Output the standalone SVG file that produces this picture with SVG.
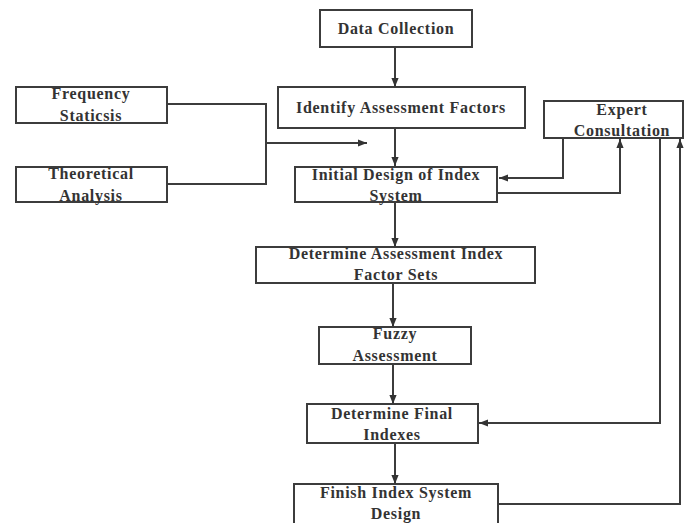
<svg xmlns="http://www.w3.org/2000/svg" width="685" height="523" viewBox="0 0 685 523">
<style>
.box{fill:#fff;stroke:#3c3c3c;stroke-width:2}
.t{font-family:"Liberation Serif","Times New Roman",serif;font-weight:bold;font-size:16px;letter-spacing:0.7px;fill:#333;text-anchor:middle}
.c{fill:none;stroke:#3c3c3c;stroke-width:2}
</style>
<defs>
<marker id="ah" viewBox="0 0 10 10" refX="10" refY="5" markerWidth="9" markerHeight="9" markerUnits="userSpaceOnUse" orient="auto">
<path d="M0,1 L10,5 L0,9 z" fill="#333"/>
</marker>
</defs>
<rect width="685" height="523" fill="#fff"/>
<g id="data-collection"><rect class="box" x="320" y="10" width="152" height="37"/><text class="t" x="396" y="34">Data Collection</text></g>
<g id="identify"><rect class="box" x="278" y="87" width="247" height="41"/><text class="t" x="401" y="113">Identify Assessment Factors</text></g>
<g id="frequency"><rect class="box" x="16" y="87" width="151" height="36"/><text class="t" x="91" y="99">Frequency</text><text class="t" x="91" y="121">Staticsis</text></g>
<g id="theoretical"><rect class="box" x="16" y="167" width="151" height="35"/><text class="t" x="91" y="179">Theoretical</text><text class="t" x="91" y="201">Analysis</text></g>
<g id="initial-design"><rect class="box" x="295" y="167" width="202" height="35"/><text class="t" x="396" y="180">Initial Design of Index</text><text class="t" x="396" y="201">System</text></g>
<g id="expert"><rect class="box" x="544" y="101" width="139" height="37"/><text class="t" x="622" y="115">Expert</text><text class="t" x="622" y="136">Consultation</text></g>
<g id="factor-sets"><rect class="box" x="256" y="247" width="279" height="36"/><text class="t" x="396" y="259">Determine Assessment Index</text><text class="t" x="396" y="280">Factor Sets</text></g>
<g id="fuzzy"><rect class="box" x="319" y="327" width="152" height="37"/><text class="t" x="395" y="339">Fuzzy</text><text class="t" x="395" y="361">Assessment</text></g>
<g id="final-indexes"><rect class="box" x="307" y="404" width="171" height="39"/><text class="t" x="392" y="419">Determine Final</text><text class="t" x="392" y="440">Indexes</text></g>
<g id="finish"><rect class="box" x="294" y="484" width="204" height="40"/><text class="t" x="396" y="498">Finish Index System</text><text class="t" x="396" y="519">Design</text></g>
<g id="connectors">
<line class="c" x1="395" y1="47" x2="395" y2="87" marker-end="url(#ah)"/>
<line class="c" x1="395" y1="128" x2="395" y2="166" marker-end="url(#ah)"/>
<polyline class="c" points="167,104 266,104 266,184 167,184"/>
<line class="c" x1="266" y1="143" x2="367" y2="143" marker-end="url(#ah)"/>
<polyline class="c" points="563,138 563,178 499,178" marker-end="url(#ah)"/>
<polyline class="c" points="497,193 620,193 620,139" marker-end="url(#ah)"/>
<line class="c" x1="395" y1="202" x2="395" y2="247" marker-end="url(#ah)"/>
<line class="c" x1="393" y1="283" x2="393" y2="327" marker-end="url(#ah)"/>
<line class="c" x1="393" y1="364" x2="393" y2="404" marker-end="url(#ah)"/>
<polyline class="c" points="660,138 660,423 479,423" marker-end="url(#ah)"/>
<line class="c" x1="395" y1="443" x2="395" y2="484" marker-end="url(#ah)"/>
<polyline class="c" points="498,504 680,504 680,139" marker-end="url(#ah)"/>
</g>
</svg>
